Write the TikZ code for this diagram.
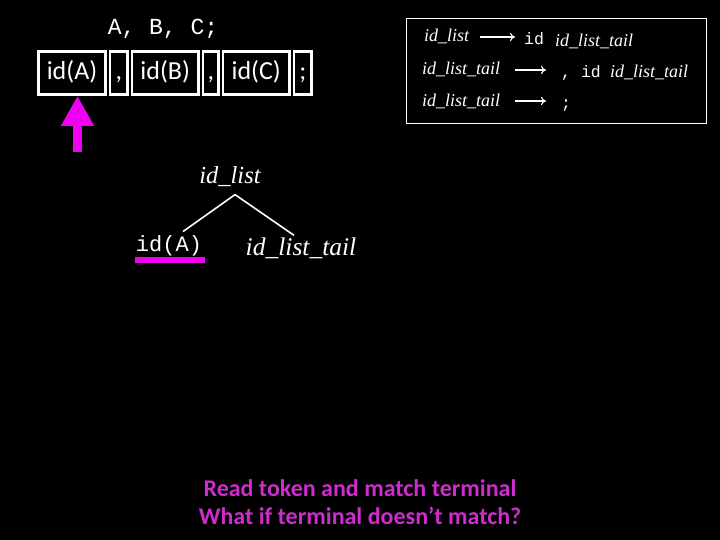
\documentclass[tikz,border=0pt]{standalone}
\usepackage{fontspec}
\setmainfont{Liberation Serif}
\setsansfont{Carlito}
\setmonofont{Liberation Mono}
\usepackage{tikz}
\usetikzlibrary{arrows.meta}
\definecolor{ptrmagenta}{RGB}{240,0,240}
\definecolor{notemagenta}{RGB}{205,45,205}
\tikzset{
  tokbox/.style={draw=white, line width=2.6pt, inner sep=0pt, minimum height=43pt,
    text height=18pt, text depth=5pt,
    text=white, font=\sffamily\fontsize{26}{26}\selectfont},
  rule/.style={text=white, inner sep=0pt, anchor=base west},
  nt/.style={rule, font=\itshape\fontsize{18}{18}\selectfont},
  term/.style={rule, font=\ttfamily\fontsize{16.5}{16.5}\selectfont},
  derives/.style={white, line width=1.1pt, -{To[length=5pt,width=8pt]}},
  branch/.style={white, line width=1.6pt},
  note/.style={text=notemagenta, font=\sffamily\bfseries\fontsize{24}{24}\selectfont}
}
\begin{document}
\begin{tikzpicture}[x=1pt, y=-1pt, >=stealth]%

\fill[black] (0,0) rectangle (720,540);
\useasboundingbox (0,0) rectangle (720,540);

\node [text=white, font=\ttfamily\fontsize{23}{23}\selectfont] (input) at (163,29) {A, B, C;};

\foreach \t/\xa/\xb [count=\i] in {id(A)/37/107, {,}/108.5/129, id(B)/130.5/200, {,}/201.5/220, id(C)/221.5/291, ;/292.5/313}
  \node [tokbox, minimum width={(\xb-\xa-2.6)*1pt}] (tok-\i) at ({(\xa+\xb)/2},73) {\t};

\coordinate (ptr) at (77.5,152);
\draw [ptrmagenta, line width=9pt, -{Triangle[width=31pt,length=30pt]}] (ptr) -- (ptr |- tok-1.south);

% grammar
\node [draw=white, line width=1.8pt, minimum width=300pt, minimum height=105pt] (rules) at (556.5,71) {};

\node [nt] (r1-lhs) at (424,42) {id\_list};
\node [term] (r1-id) at (524,45) {id};
\node [nt] (r1-tail) at (555,47) {id\_list\_tail};
\draw [derives] (480,37) -- (515,37);

\node [nt] (r2-lhs) at (422,75) {id\_list\_tail};
\node [term] (r2-id) at (561,78) {, id};
\node [nt] (r2-tail) at (610,78) {id\_list\_tail};
\draw [derives] (515,70) -- (546,70);

\node [nt] (r3-lhs) at (422,107) {id\_list\_tail};
\node [term] (r3-semi) at (561,109) {;};
\draw [derives] (515,101) -- (546,101);

% parse tree
\node [text=white, font=\itshape\fontsize{24.5}{24.5}\selectfont] (root) at (230,177) {id\_list};
\node [text=white, inner sep=1pt, font=\ttfamily\fontsize{22}{22}\selectfont] (leafA) at (169,246) {id(A)};
\node [text=white, inner sep=1pt, font=\itshape\fontsize{25.5}{25.5}\selectfont] (leafT) at (301,248) {id\_list\_tail};

\draw [branch] ([xshift=5pt, yshift=-4pt]root.south) -- ([xshift=14pt, yshift=3pt]leafA.north);
\draw [branch] ([xshift=5pt, yshift=-4pt]root.south) -- ([xshift=-7pt, yshift=1pt]leafT.north);
\draw [ptrmagenta, line width=6pt] ([yshift=-3pt]leafA.south west) -- ([xshift=2pt, yshift=-3pt]leafA.south east);

\node [note, align=center] (question) at (360,502) {Read token and match terminal\\[4pt] What if terminal doesn’t match?};

\end{tikzpicture}
\end{document}
